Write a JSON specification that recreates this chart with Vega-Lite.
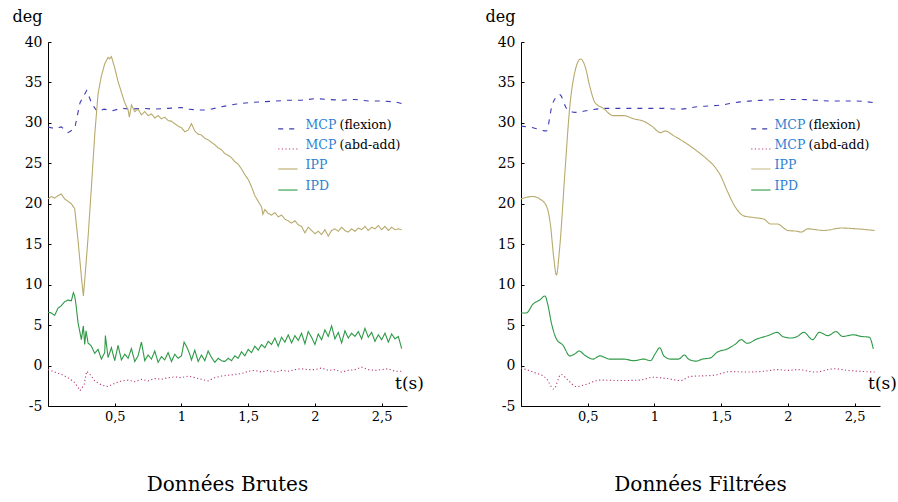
{
"$schema": "https://vega.github.io/schema/vega-lite/v6.json",
"background": "white",
"padding": {"left": 12, "top": 8, "right": 0, "bottom": 2},
"bounds": "flush",
"spacing": 114,
"config": {
  "font": "DejaVu Serif",
  "view": {"stroke": null},
  "axis": {"grid": false, "domainColor": "#000", "tickColor": "#000", "labelColor": "#000", "titleColor": "#000", "domainWidth": 1, "tickWidth": 1, "labelFont": "DejaVu Serif", "titleFont": "DejaVu Serif", "titleFontWeight": "normal"},
  "style": {"guide-label": {"font": "DejaVu Serif"}, "guide-title": {"font": "DejaVu Serif"}}
},
"datasets": {
"raw": [
{"s":"flex","t":0,"v":29.5},{"s":"flex","t":0.05,"v":29.3},{"s":"flex","t":0.1,"v":29.5},{"s":"flex","t":0.15,"v":28.8},{"s":"flex","t":0.2,"v":29.3},{"s":"flex","t":0.24,"v":32.5},{"s":"flex","t":0.29,"v":34.0},{"s":"flex","t":0.33,"v":32.3},{"s":"flex","t":0.37,"v":31.4},{"s":"flex","t":0.42,"v":31.7},{"s":"flex","t":0.48,"v":31.5},{"s":"flex","t":0.55,"v":31.8},{"s":"flex","t":0.62,"v":31.7},{"s":"flex","t":0.7,"v":31.8},{"s":"flex","t":0.8,"v":31.7},{"s":"flex","t":0.9,"v":31.8},{"s":"flex","t":1.0,"v":31.9},{"s":"flex","t":1.05,"v":31.7},{"s":"flex","t":1.12,"v":31.6},{"s":"flex","t":1.2,"v":31.6},{"s":"flex","t":1.3,"v":32.0},{"s":"flex","t":1.4,"v":32.3},{"s":"flex","t":1.5,"v":32.5},{"s":"flex","t":1.6,"v":32.6},{"s":"flex","t":1.7,"v":32.7},{"s":"flex","t":1.8,"v":32.8},{"s":"flex","t":1.9,"v":32.8},{"s":"flex","t":2.0,"v":33.0},{"s":"flex","t":2.1,"v":32.9},{"s":"flex","t":2.2,"v":32.8},{"s":"flex","t":2.3,"v":32.9},{"s":"flex","t":2.4,"v":32.7},{"s":"flex","t":2.5,"v":32.7},{"s":"flex","t":2.6,"v":32.6},{"s":"flex","t":2.65,"v":32.4},
{"s":"abd","t":0,"v":-0.5},{"s":"abd","t":0.05,"v":-0.8},{"s":"abd","t":0.1,"v":-1.1},{"s":"abd","t":0.15,"v":-1.5},{"s":"abd","t":0.2,"v":-2.1},{"s":"abd","t":0.24,"v":-3.1},{"s":"abd","t":0.27,"v":-2.4},{"s":"abd","t":0.29,"v":-0.7},{"s":"abd","t":0.32,"v":-1.2},{"s":"abd","t":0.35,"v":-1.9},{"s":"abd","t":0.4,"v":-2.4},{"s":"abd","t":0.45,"v":-2.6},{"s":"abd","t":0.5,"v":-2.2},{"s":"abd","t":0.55,"v":-1.9},{"s":"abd","t":0.6,"v":-1.8},{"s":"abd","t":0.65,"v":-2.0},{"s":"abd","t":0.7,"v":-1.7},{"s":"abd","t":0.75,"v":-1.9},{"s":"abd","t":0.8,"v":-1.6},{"s":"abd","t":0.85,"v":-1.7},{"s":"abd","t":0.9,"v":-1.5},{"s":"abd","t":0.95,"v":-1.4},{"s":"abd","t":1.0,"v":-1.5},{"s":"abd","t":1.05,"v":-1.3},{"s":"abd","t":1.1,"v":-1.5},{"s":"abd","t":1.15,"v":-1.7},{"s":"abd","t":1.2,"v":-1.9},{"s":"abd","t":1.25,"v":-1.5},{"s":"abd","t":1.3,"v":-1.3},{"s":"abd","t":1.35,"v":-1.2},{"s":"abd","t":1.4,"v":-1.1},{"s":"abd","t":1.45,"v":-1.0},{"s":"abd","t":1.5,"v":-0.7},{"s":"abd","t":1.55,"v":-0.6},{"s":"abd","t":1.6,"v":-0.8},{"s":"abd","t":1.65,"v":-0.6},{"s":"abd","t":1.7,"v":-0.8},{"s":"abd","t":1.75,"v":-0.6},{"s":"abd","t":1.8,"v":-0.7},{"s":"abd","t":1.85,"v":-0.5},{"s":"abd","t":1.9,"v":-0.4},{"s":"abd","t":1.95,"v":-0.5},{"s":"abd","t":2.0,"v":-0.5},{"s":"abd","t":2.05,"v":-0.3},{"s":"abd","t":2.1,"v":-0.6},{"s":"abd","t":2.15,"v":-0.5},{"s":"abd","t":2.2,"v":-0.8},{"s":"abd","t":2.25,"v":-0.6},{"s":"abd","t":2.3,"v":-0.5},{"s":"abd","t":2.35,"v":-0.2},{"s":"abd","t":2.4,"v":-0.5},{"s":"abd","t":2.45,"v":-0.6},{"s":"abd","t":2.5,"v":-0.5},{"s":"abd","t":2.55,"v":-0.4},{"s":"abd","t":2.6,"v":-0.7},{"s":"abd","t":2.65,"v":-0.7},
{"s":"IPP","t":0,"v":20.6},{"s":"IPP","t":0.025,"v":20.9},{"s":"IPP","t":0.05,"v":20.7},{"s":"IPP","t":0.075,"v":21.0},{"s":"IPP","t":0.1,"v":21.2},{"s":"IPP","t":0.125,"v":20.6},{"s":"IPP","t":0.15,"v":20.3},{"s":"IPP","t":0.175,"v":20.0},{"s":"IPP","t":0.2,"v":19.4},{"s":"IPP","t":0.225,"v":15.5},{"s":"IPP","t":0.25,"v":11.0},{"s":"IPP","t":0.265,"v":8.6},{"s":"IPP","t":0.275,"v":10.5},{"s":"IPP","t":0.3,"v":15.8},{"s":"IPP","t":0.325,"v":22.0},{"s":"IPP","t":0.35,"v":28.5},{"s":"IPP","t":0.375,"v":33.6},{"s":"IPP","t":0.4,"v":35.8},{"s":"IPP","t":0.425,"v":37.3},{"s":"IPP","t":0.45,"v":38.1},{"s":"IPP","t":0.46,"v":37.9},{"s":"IPP","t":0.475,"v":38.2},{"s":"IPP","t":0.5,"v":36.8},{"s":"IPP","t":0.525,"v":35.1},{"s":"IPP","t":0.55,"v":33.8},{"s":"IPP","t":0.575,"v":32.5},{"s":"IPP","t":0.6,"v":31.6},{"s":"IPP","t":0.61,"v":30.7},{"s":"IPP","t":0.625,"v":32.2},{"s":"IPP","t":0.65,"v":31.4},{"s":"IPP","t":0.675,"v":31.7},{"s":"IPP","t":0.7,"v":31.0},{"s":"IPP","t":0.725,"v":31.4},{"s":"IPP","t":0.75,"v":30.9},{"s":"IPP","t":0.775,"v":31.1},{"s":"IPP","t":0.8,"v":30.6},{"s":"IPP","t":0.825,"v":30.9},{"s":"IPP","t":0.85,"v":30.5},{"s":"IPP","t":0.875,"v":30.7},{"s":"IPP","t":0.9,"v":30.3},{"s":"IPP","t":0.925,"v":30.2},{"s":"IPP","t":0.95,"v":29.9},{"s":"IPP","t":0.975,"v":29.6},{"s":"IPP","t":1.0,"v":29.4},{"s":"IPP","t":1.025,"v":28.9},{"s":"IPP","t":1.05,"v":29.1},{"s":"IPP","t":1.075,"v":29.9},{"s":"IPP","t":1.1,"v":29.0},{"s":"IPP","t":1.125,"v":28.6},{"s":"IPP","t":1.15,"v":28.5},{"s":"IPP","t":1.175,"v":28.1},{"s":"IPP","t":1.2,"v":27.9},{"s":"IPP","t":1.225,"v":27.6},{"s":"IPP","t":1.25,"v":27.3},{"s":"IPP","t":1.275,"v":26.9},{"s":"IPP","t":1.3,"v":26.7},{"s":"IPP","t":1.325,"v":26.2},{"s":"IPP","t":1.35,"v":26.0},{"s":"IPP","t":1.375,"v":25.7},{"s":"IPP","t":1.4,"v":25.2},{"s":"IPP","t":1.425,"v":24.9},{"s":"IPP","t":1.45,"v":24.3},{"s":"IPP","t":1.475,"v":23.6},{"s":"IPP","t":1.5,"v":23.0},{"s":"IPP","t":1.525,"v":22.1},{"s":"IPP","t":1.55,"v":21.0},{"s":"IPP","t":1.575,"v":20.3},{"s":"IPP","t":1.6,"v":19.6},{"s":"IPP","t":1.61,"v":18.7},{"s":"IPP","t":1.625,"v":19.3},{"s":"IPP","t":1.65,"v":18.8},{"s":"IPP","t":1.675,"v":18.6},{"s":"IPP","t":1.7,"v":18.9},{"s":"IPP","t":1.725,"v":18.4},{"s":"IPP","t":1.75,"v":18.6},{"s":"IPP","t":1.775,"v":18.1},{"s":"IPP","t":1.8,"v":17.9},{"s":"IPP","t":1.825,"v":17.6},{"s":"IPP","t":1.85,"v":17.9},{"s":"IPP","t":1.875,"v":17.4},{"s":"IPP","t":1.9,"v":17.2},{"s":"IPP","t":1.925,"v":16.4},{"s":"IPP","t":1.95,"v":17.1},{"s":"IPP","t":1.975,"v":16.7},{"s":"IPP","t":2.0,"v":16.3},{"s":"IPP","t":2.025,"v":16.6},{"s":"IPP","t":2.05,"v":16.2},{"s":"IPP","t":2.075,"v":16.8},{"s":"IPP","t":2.1,"v":16.0},{"s":"IPP","t":2.125,"v":16.7},{"s":"IPP","t":2.15,"v":16.9},{"s":"IPP","t":2.175,"v":16.6},{"s":"IPP","t":2.2,"v":17.1},{"s":"IPP","t":2.225,"v":16.7},{"s":"IPP","t":2.25,"v":16.5},{"s":"IPP","t":2.275,"v":16.9},{"s":"IPP","t":2.3,"v":16.6},{"s":"IPP","t":2.325,"v":17.0},{"s":"IPP","t":2.35,"v":16.8},{"s":"IPP","t":2.375,"v":17.2},{"s":"IPP","t":2.4,"v":16.7},{"s":"IPP","t":2.425,"v":17.1},{"s":"IPP","t":2.45,"v":16.9},{"s":"IPP","t":2.475,"v":17.3},{"s":"IPP","t":2.5,"v":16.8},{"s":"IPP","t":2.525,"v":17.2},{"s":"IPP","t":2.55,"v":16.7},{"s":"IPP","t":2.575,"v":17.1},{"s":"IPP","t":2.6,"v":16.8},{"s":"IPP","t":2.625,"v":16.9},{"s":"IPP","t":2.65,"v":16.8},
{"s":"IPD","t":0,"v":6.6},{"s":"IPD","t":0.025,"v":6.5},{"s":"IPD","t":0.05,"v":6.2},{"s":"IPD","t":0.075,"v":7.1},{"s":"IPD","t":0.1,"v":7.4},{"s":"IPD","t":0.125,"v":7.9},{"s":"IPD","t":0.15,"v":8.1},{"s":"IPD","t":0.175,"v":8.0},{"s":"IPD","t":0.19,"v":9.0},{"s":"IPD","t":0.2,"v":8.6},{"s":"IPD","t":0.21,"v":7.5},{"s":"IPD","t":0.225,"v":5.3},{"s":"IPD","t":0.25,"v":3.2},{"s":"IPD","t":0.265,"v":4.9},{"s":"IPD","t":0.275,"v":2.6},{"s":"IPD","t":0.285,"v":4.3},{"s":"IPD","t":0.3,"v":2.8},{"s":"IPD","t":0.325,"v":2.4},{"s":"IPD","t":0.35,"v":1.5},{"s":"IPD","t":0.375,"v":2.0},{"s":"IPD","t":0.4,"v":0.8},{"s":"IPD","t":0.425,"v":1.6},{"s":"IPD","t":0.43,"v":3.7},{"s":"IPD","t":0.45,"v":1.0},{"s":"IPD","t":0.475,"v":2.2},{"s":"IPD","t":0.5,"v":0.6},{"s":"IPD","t":0.525,"v":2.5},{"s":"IPD","t":0.55,"v":0.7},{"s":"IPD","t":0.575,"v":1.4},{"s":"IPD","t":0.6,"v":0.9},{"s":"IPD","t":0.625,"v":2.1},{"s":"IPD","t":0.65,"v":0.5},{"s":"IPD","t":0.675,"v":1.2},{"s":"IPD","t":0.7,"v":2.9},{"s":"IPD","t":0.725,"v":0.6},{"s":"IPD","t":0.75,"v":1.3},{"s":"IPD","t":0.775,"v":0.8},{"s":"IPD","t":0.8,"v":1.8},{"s":"IPD","t":0.825,"v":0.4},{"s":"IPD","t":0.85,"v":1.1},{"s":"IPD","t":0.875,"v":0.7},{"s":"IPD","t":0.9,"v":1.6},{"s":"IPD","t":0.925,"v":0.5},{"s":"IPD","t":0.95,"v":1.4},{"s":"IPD","t":0.975,"v":0.9},{"s":"IPD","t":1.0,"v":1.2},{"s":"IPD","t":1.02,"v":2.9},{"s":"IPD","t":1.04,"v":2.3},{"s":"IPD","t":1.06,"v":1.5},{"s":"IPD","t":1.075,"v":0.7},{"s":"IPD","t":1.1,"v":1.9},{"s":"IPD","t":1.125,"v":0.5},{"s":"IPD","t":1.15,"v":1.3},{"s":"IPD","t":1.175,"v":0.6},{"s":"IPD","t":1.2,"v":1.8},{"s":"IPD","t":1.225,"v":1.0},{"s":"IPD","t":1.25,"v":0.4},{"s":"IPD","t":1.275,"v":0.9},{"s":"IPD","t":1.3,"v":0.6},{"s":"IPD","t":1.325,"v":0.5},{"s":"IPD","t":1.35,"v":0.9},{"s":"IPD","t":1.375,"v":0.6},{"s":"IPD","t":1.4,"v":1.2},{"s":"IPD","t":1.425,"v":0.9},{"s":"IPD","t":1.45,"v":1.7},{"s":"IPD","t":1.475,"v":1.2},{"s":"IPD","t":1.5,"v":2.0},{"s":"IPD","t":1.525,"v":1.6},{"s":"IPD","t":1.55,"v":2.4},{"s":"IPD","t":1.575,"v":1.9},{"s":"IPD","t":1.6,"v":2.6},{"s":"IPD","t":1.625,"v":2.2},{"s":"IPD","t":1.65,"v":3.0},{"s":"IPD","t":1.675,"v":2.6},{"s":"IPD","t":1.7,"v":3.4},{"s":"IPD","t":1.725,"v":2.4},{"s":"IPD","t":1.75,"v":3.5},{"s":"IPD","t":1.775,"v":2.9},{"s":"IPD","t":1.8,"v":3.8},{"s":"IPD","t":1.825,"v":2.8},{"s":"IPD","t":1.85,"v":3.7},{"s":"IPD","t":1.875,"v":3.1},{"s":"IPD","t":1.9,"v":4.0},{"s":"IPD","t":1.925,"v":2.7},{"s":"IPD","t":1.95,"v":4.2},{"s":"IPD","t":1.975,"v":3.5},{"s":"IPD","t":2.0,"v":2.6},{"s":"IPD","t":2.025,"v":3.9},{"s":"IPD","t":2.05,"v":3.2},{"s":"IPD","t":2.075,"v":4.4},{"s":"IPD","t":2.1,"v":3.6},{"s":"IPD","t":2.125,"v":4.9},{"s":"IPD","t":2.15,"v":3.3},{"s":"IPD","t":2.175,"v":4.1},{"s":"IPD","t":2.2,"v":2.8},{"s":"IPD","t":2.225,"v":4.3},{"s":"IPD","t":2.25,"v":3.4},{"s":"IPD","t":2.275,"v":4.0},{"s":"IPD","t":2.3,"v":3.6},{"s":"IPD","t":2.325,"v":4.2},{"s":"IPD","t":2.35,"v":3.3},{"s":"IPD","t":2.375,"v":4.6},{"s":"IPD","t":2.4,"v":3.5},{"s":"IPD","t":2.425,"v":4.1},{"s":"IPD","t":2.45,"v":3.0},{"s":"IPD","t":2.475,"v":3.8},{"s":"IPD","t":2.5,"v":3.2},{"s":"IPD","t":2.525,"v":4.0},{"s":"IPD","t":2.55,"v":2.9},{"s":"IPD","t":2.575,"v":3.9},{"s":"IPD","t":2.6,"v":3.3},{"s":"IPD","t":2.625,"v":3.6},{"s":"IPD","t":2.65,"v":2.1}
],
"filt": [
{"s":"flex","t":0,"v":29.6},{"s":"flex","t":0.09,"v":29.4},{"s":"flex","t":0.19,"v":29.0},{"s":"flex","t":0.235,"v":32.3},{"s":"flex","t":0.29,"v":33.5},{"s":"flex","t":0.345,"v":31.7},{"s":"flex","t":0.405,"v":31.3},{"s":"flex","t":0.52,"v":31.6},{"s":"flex","t":0.64,"v":31.8},{"s":"flex","t":0.82,"v":31.8},{"s":"flex","t":1.045,"v":31.8},{"s":"flex","t":1.195,"v":31.7},{"s":"flex","t":1.32,"v":32.0},{"s":"flex","t":1.495,"v":32.2},{"s":"flex","t":1.645,"v":32.6},{"s":"flex","t":1.82,"v":32.8},{"s":"flex","t":2.0,"v":32.9},{"s":"flex","t":2.1,"v":32.9},{"s":"flex","t":2.2,"v":32.8},{"s":"flex","t":2.35,"v":32.7},{"s":"flex","t":2.5,"v":32.7},{"s":"flex","t":2.65,"v":32.5},
{"s":"abd","t":0,"v":-0.3},{"s":"abd","t":0.09,"v":-0.8},{"s":"abd","t":0.19,"v":-1.6},{"s":"abd","t":0.245,"v":-2.9},{"s":"abd","t":0.3,"v":-1.1},{"s":"abd","t":0.355,"v":-1.85},{"s":"abd","t":0.415,"v":-2.6},{"s":"abd","t":0.49,"v":-2.3},{"s":"abd","t":0.59,"v":-1.8},{"s":"abd","t":0.74,"v":-1.85},{"s":"abd","t":0.89,"v":-1.8},{"s":"abd","t":0.99,"v":-1.45},{"s":"abd","t":1.09,"v":-1.6},{"s":"abd","t":1.195,"v":-1.85},{"s":"abd","t":1.27,"v":-1.35},{"s":"abd","t":1.445,"v":-1.2},{"s":"abd","t":1.57,"v":-0.75},{"s":"abd","t":1.695,"v":-0.8},{"s":"abd","t":1.82,"v":-0.7},{"s":"abd","t":1.92,"v":-0.5},{"s":"abd","t":2.0,"v":-0.6},{"s":"abd","t":2.07,"v":-0.5},{"s":"abd","t":2.2,"v":-0.8},{"s":"abd","t":2.35,"v":-0.4},{"s":"abd","t":2.45,"v":-0.6},{"s":"abd","t":2.65,"v":-0.8},
{"s":"IPP","t":0,"v":20.6},{"s":"IPP","t":0.09,"v":20.9},{"s":"IPP","t":0.14,"v":20.6},{"s":"IPP","t":0.19,"v":19.75},{"s":"IPP","t":0.22,"v":17.5},{"s":"IPP","t":0.245,"v":13.4},{"s":"IPP","t":0.265,"v":11.2},{"s":"IPP","t":0.29,"v":14.6},{"s":"IPP","t":0.33,"v":24.1},{"s":"IPP","t":0.365,"v":31.9},{"s":"IPP","t":0.405,"v":36.4},{"s":"IPP","t":0.447,"v":37.9},{"s":"IPP","t":0.48,"v":37.0},{"s":"IPP","t":0.517,"v":34.4},{"s":"IPP","t":0.555,"v":32.5},{"s":"IPP","t":0.617,"v":31.8},{"s":"IPP","t":0.69,"v":30.9},{"s":"IPP","t":0.77,"v":30.9},{"s":"IPP","t":0.845,"v":30.5},{"s":"IPP","t":0.92,"v":30.2},{"s":"IPP","t":0.98,"v":29.6},{"s":"IPP","t":1.045,"v":28.8},{"s":"IPP","t":1.08,"v":29.0},{"s":"IPP","t":1.145,"v":28.4},{"s":"IPP","t":1.245,"v":27.4},{"s":"IPP","t":1.32,"v":26.5},{"s":"IPP","t":1.395,"v":25.5},{"s":"IPP","t":1.445,"v":24.7},{"s":"IPP","t":1.495,"v":23.5},{"s":"IPP","t":1.545,"v":21.6},{"s":"IPP","t":1.6,"v":19.75},{"s":"IPP","t":1.67,"v":18.5},{"s":"IPP","t":1.745,"v":18.3},{"s":"IPP","t":1.82,"v":18.1},{"s":"IPP","t":1.87,"v":17.5},{"s":"IPP","t":1.92,"v":17.5},{"s":"IPP","t":2.0,"v":16.7},{"s":"IPP","t":2.07,"v":16.6},{"s":"IPP","t":2.1,"v":16.5},{"s":"IPP","t":2.15,"v":16.9},{"s":"IPP","t":2.27,"v":16.7},{"s":"IPP","t":2.4,"v":17.0},{"s":"IPP","t":2.52,"v":16.9},{"s":"IPP","t":2.65,"v":16.7},
{"s":"IPD","t":0,"v":6.5},{"s":"IPD","t":0.04,"v":6.5},{"s":"IPD","t":0.09,"v":7.6},{"s":"IPD","t":0.14,"v":8.1},{"s":"IPD","t":0.18,"v":8.6},{"s":"IPD","t":0.2,"v":7.6},{"s":"IPD","t":0.23,"v":5.1},{"s":"IPD","t":0.265,"v":3.3},{"s":"IPD","t":0.315,"v":2.5},{"s":"IPD","t":0.365,"v":1.2},{"s":"IPD","t":0.405,"v":1.45},{"s":"IPD","t":0.435,"v":1.8},{"s":"IPD","t":0.48,"v":1.25},{"s":"IPD","t":0.54,"v":0.8},{"s":"IPD","t":0.59,"v":1.2},{"s":"IPD","t":0.665,"v":0.8},{"s":"IPD","t":0.77,"v":0.8},{"s":"IPD","t":0.845,"v":0.6},{"s":"IPD","t":0.92,"v":0.8},{"s":"IPD","t":0.97,"v":0.6},{"s":"IPD","t":1.005,"v":1.45},{"s":"IPD","t":1.04,"v":2.2},{"s":"IPD","t":1.07,"v":1.2},{"s":"IPD","t":1.12,"v":0.8},{"s":"IPD","t":1.18,"v":0.8},{"s":"IPD","t":1.225,"v":1.3},{"s":"IPD","t":1.255,"v":0.8},{"s":"IPD","t":1.31,"v":0.55},{"s":"IPD","t":1.36,"v":0.8},{"s":"IPD","t":1.42,"v":0.95},{"s":"IPD","t":1.47,"v":1.65},{"s":"IPD","t":1.545,"v":2.05},{"s":"IPD","t":1.61,"v":2.7},{"s":"IPD","t":1.65,"v":3.2},{"s":"IPD","t":1.695,"v":2.75},{"s":"IPD","t":1.77,"v":3.3},{"s":"IPD","t":1.85,"v":3.7},{"s":"IPD","t":1.92,"v":4.1},{"s":"IPD","t":1.96,"v":3.6},{"s":"IPD","t":2.02,"v":3.4},{"s":"IPD","t":2.07,"v":3.6},{"s":"IPD","t":2.12,"v":4.1},{"s":"IPD","t":2.185,"v":3.2},{"s":"IPD","t":2.235,"v":4.1},{"s":"IPD","t":2.3,"v":3.7},{"s":"IPD","t":2.36,"v":4.2},{"s":"IPD","t":2.41,"v":3.6},{"s":"IPD","t":2.49,"v":3.8},{"s":"IPD","t":2.55,"v":3.6},{"s":"IPD","t":2.61,"v":3.5},{"s":"IPD","t":2.64,"v":2.05}
]
},
"hconcat": [
{
  "width": 359, "height": 364,
  "title": {"text": "Données Brutes", "orient": "bottom", "offset": 52, "fontSize": 20, "fontWeight": "normal", "font": "DejaVu Serif", "color": "#000"},
  "layer": [
    {
      "data": {"name": "raw"},
      "mark": {"type": "line", "strokeWidth": 1.1, "clip": false},
      "encoding": {
        "x": {"field": "t", "type": "quantitative", "scale": {"domain": [0, 2.69], "nice": false, "zero": false},
          "axis": {"values": [0.5, 1, 1.5, 2, 2.5], "format": "~g", "labelExpr": "replace(datum.label, '.', ',')", "tickSize": -3, "labelPadding": 7, "labelFont": "DejaVu Serif", "labelFontSize": 13, "title": "t(s)", "titleFont": "DejaVu Serif", "titleFontSize": 17, "titleFontWeight": "normal", "titleX": 361, "titleY": -23, "titleAlign": "center", "titleBaseline": "middle"}},
        "y": {"field": "v", "type": "quantitative", "scale": {"domain": [-5, 40], "nice": false, "zero": false},
          "axis": {"values": [-5, 0, 5, 10, 15, 20, 25, 30, 35, 40], "labelExpr": "'' + datum.value", "tickSize": -3, "labelPadding": 9, "labelFont": "DejaVu Serif", "labelFontSize": 14, "title": "deg", "titleFont": "DejaVu Serif", "titleFontWeight": "normal", "titleAngle": 0, "titleFontSize": 16, "titleX": -21, "titleY": -26, "titleAlign": "center", "titleBaseline": "middle"}},
        "color": {"field": "s", "type": "nominal", "legend": null, "scale": {"domain": ["flex", "abd", "IPP", "IPD"], "range": ["#3c3cb4", "#b83c78", "#b8aa6c", "#2e9946"]}},
        "strokeDash": {"field": "s", "type": "nominal", "legend": null, "scale": {"domain": ["flex", "abd", "IPP", "IPD"], "range": [[5, 6], [1.2, 2.4], [1, 0], [1, 0]]}}
      }
    },
    {
      "data": {"values": [{}]},
      "layer": [
        {"mark": {"type": "rule", "color": "#3c3cb4", "strokeDash": [5, 6], "strokeWidth": 1.2}, "encoding": {"x": {"datum": 1.725}, "x2": {"datum": 1.87}, "y": {"datum": 29.25}}},
        {"mark": {"type": "rule", "color": "#b83c78", "strokeDash": [1.2, 2.4], "strokeWidth": 1.2}, "encoding": {"x": {"datum": 1.725}, "x2": {"datum": 1.87}, "y": {"datum": 26.77}}},
        {"mark": {"type": "rule", "color": "#b8aa6c", "strokeWidth": 1.1}, "encoding": {"x": {"datum": 1.725}, "x2": {"datum": 1.87}, "y": {"datum": 24.3}}},
        {"mark": {"type": "rule", "color": "#2e9946", "strokeWidth": 1.1}, "encoding": {"x": {"datum": 1.725}, "x2": {"datum": 1.87}, "y": {"datum": 21.7}}},
        {"mark": {"type": "text", "color": "#2c7fd1", "align": "left", "baseline": "middle", "fontSize": 12.5, "font": "DejaVu Serif"}, "encoding": {"x": {"datum": 1.93}, "y": {"datum": 29.74}, "text": {"value": "MCP"}}},
        {"mark": {"type": "text", "color": "#2c7fd1", "align": "left", "baseline": "middle", "fontSize": 12.5, "font": "DejaVu Serif"}, "encoding": {"x": {"datum": 1.93}, "y": {"datum": 27.27}, "text": {"value": "MCP"}}},
        {"mark": {"type": "text", "color": "#2c7fd1", "align": "left", "baseline": "middle", "fontSize": 12.5, "font": "DejaVu Serif"}, "encoding": {"x": {"datum": 1.93}, "y": {"datum": 24.8}, "text": {"value": "IPP"}}},
        {"mark": {"type": "text", "color": "#2c7fd1", "align": "left", "baseline": "middle", "fontSize": 12.5, "font": "DejaVu Serif"}, "encoding": {"x": {"datum": 1.93}, "y": {"datum": 22.2}, "text": {"value": "IPD"}}},
        {"mark": {"type": "text", "color": "#000", "align": "left", "baseline": "middle", "fontSize": 12.5, "font": "DejaVu Serif", "dx": 34}, "encoding": {"x": {"datum": 1.93}, "y": {"datum": 29.74}, "text": {"value": "(flexion)"}}},
        {"mark": {"type": "text", "color": "#000", "align": "left", "baseline": "middle", "fontSize": 12.5, "font": "DejaVu Serif", "dx": 34}, "encoding": {"x": {"datum": 1.93}, "y": {"datum": 27.27}, "text": {"value": "(abd-add)"}}}
      ]
    }
  ]
},
{
  "width": 359, "height": 364,
  "title": {"text": "Données Filtrées", "orient": "bottom", "offset": 52, "fontSize": 20, "fontWeight": "normal", "font": "DejaVu Serif", "color": "#000"},
  "layer": [
    {
      "data": {"name": "filt"},
      "mark": {"type": "line", "strokeWidth": 1.1, "interpolate": "monotone", "clip": false},
      "encoding": {
        "x": {"field": "t", "type": "quantitative", "scale": {"domain": [0, 2.69], "nice": false, "zero": false},
          "axis": {"values": [0.5, 1, 1.5, 2, 2.5], "format": "~g", "labelExpr": "replace(datum.label, '.', ',')", "tickSize": -3, "labelPadding": 7, "labelFont": "DejaVu Serif", "labelFontSize": 13, "title": "t(s)", "titleFont": "DejaVu Serif", "titleFontSize": 17, "titleFontWeight": "normal", "titleX": 361, "titleY": -23, "titleAlign": "center", "titleBaseline": "middle"}},
        "y": {"field": "v", "type": "quantitative", "scale": {"domain": [-5, 40], "nice": false, "zero": false},
          "axis": {"values": [-5, 0, 5, 10, 15, 20, 25, 30, 35, 40], "labelExpr": "'' + datum.value", "tickSize": -3, "labelPadding": 9, "labelFont": "DejaVu Serif", "labelFontSize": 14, "title": "deg", "titleFont": "DejaVu Serif", "titleFontWeight": "normal", "titleAngle": 0, "titleFontSize": 16, "titleX": -21, "titleY": -26, "titleAlign": "center", "titleBaseline": "middle"}},
        "color": {"field": "s", "type": "nominal", "legend": null, "scale": {"domain": ["flex", "abd", "IPP", "IPD"], "range": ["#3c3cb4", "#b83c78", "#c9bd8c", "#2e9946"]}},
        "strokeDash": {"field": "s", "type": "nominal", "legend": null, "scale": {"domain": ["flex", "abd", "IPP", "IPD"], "range": [[5, 6], [1.2, 2.4], [1, 0], [1, 0]]}}
      }
    },
    {
      "data": {"values": [{}]},
      "layer": [
        {"mark": {"type": "rule", "color": "#3c3cb4", "strokeDash": [5, 6], "strokeWidth": 1.2}, "encoding": {"x": {"datum": 1.725}, "x2": {"datum": 1.87}, "y": {"datum": 29.25}}},
        {"mark": {"type": "rule", "color": "#b83c78", "strokeDash": [1.2, 2.4], "strokeWidth": 1.2}, "encoding": {"x": {"datum": 1.725}, "x2": {"datum": 1.87}, "y": {"datum": 26.77}}},
        {"mark": {"type": "rule", "color": "#c9bd8c", "strokeWidth": 1.1}, "encoding": {"x": {"datum": 1.725}, "x2": {"datum": 1.87}, "y": {"datum": 24.3}}},
        {"mark": {"type": "rule", "color": "#2e9946", "strokeWidth": 1.1}, "encoding": {"x": {"datum": 1.725}, "x2": {"datum": 1.87}, "y": {"datum": 21.7}}},
        {"mark": {"type": "text", "color": "#2c7fd1", "align": "left", "baseline": "middle", "fontSize": 12.5, "font": "DejaVu Serif"}, "encoding": {"x": {"datum": 1.9}, "y": {"datum": 29.74}, "text": {"value": "MCP"}}},
        {"mark": {"type": "text", "color": "#2c7fd1", "align": "left", "baseline": "middle", "fontSize": 12.5, "font": "DejaVu Serif"}, "encoding": {"x": {"datum": 1.9}, "y": {"datum": 27.27}, "text": {"value": "MCP"}}},
        {"mark": {"type": "text", "color": "#2c7fd1", "align": "left", "baseline": "middle", "fontSize": 12.5, "font": "DejaVu Serif"}, "encoding": {"x": {"datum": 1.9}, "y": {"datum": 24.8}, "text": {"value": "IPP"}}},
        {"mark": {"type": "text", "color": "#2c7fd1", "align": "left", "baseline": "middle", "fontSize": 12.5, "font": "DejaVu Serif"}, "encoding": {"x": {"datum": 1.9}, "y": {"datum": 22.2}, "text": {"value": "IPD"}}},
        {"mark": {"type": "text", "color": "#000", "align": "left", "baseline": "middle", "fontSize": 12.5, "font": "DejaVu Serif", "dx": 34}, "encoding": {"x": {"datum": 1.9}, "y": {"datum": 29.74}, "text": {"value": "(flexion)"}}},
        {"mark": {"type": "text", "color": "#000", "align": "left", "baseline": "middle", "fontSize": 12.5, "font": "DejaVu Serif", "dx": 34}, "encoding": {"x": {"datum": 1.9}, "y": {"datum": 27.27}, "text": {"value": "(abd-add)"}}}
      ]
    }
  ]
}
]
}
